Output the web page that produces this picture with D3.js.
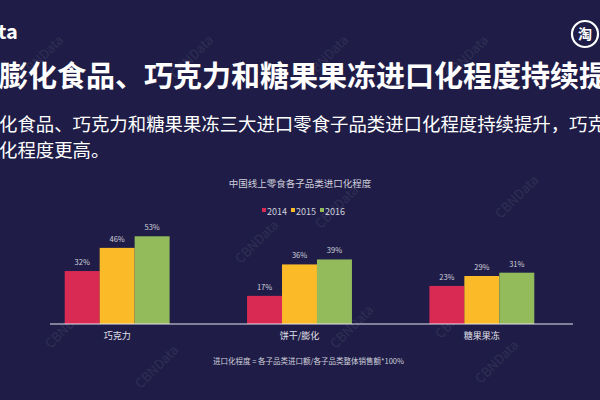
<!DOCTYPE html>
<html><head><meta charset="utf-8">
<script src="https://cdn.jsdelivr.net/npm/d3@7"></script>
<style>html,body{margin:0;padding:0;background:#1f1d47;overflow:hidden}</style>
</head><body><svg id="c" width="600" height="400"></svg>
<script>
const categories = ["巧克力", "饼干/膨化", "糖果果冻"];
const years = ["2014", "2015", "2016"];
const v2014 = [32, 17, 23];
const v2015 = [46, 36, 29];
const v2016 = [53, 39, 31];
const colors = ["#d92a53", "#fbbb28", "#93bb5c"];

const svg = d3.select("#c");
const F = "'Noto Sans CJK SC','Noto Sans',sans-serif";
svg.append("rect").attr("width",600).attr("height",400).attr("fill","#1f1d47");

// watermarks
const wm = [[45,60],[195,60],[330,60],[470,60],[260,245],[70,330],[355,330],[460,320],[520,200],[340,210],[160,370],[500,365]];
svg.selectAll("text.wm").data(wm).join("text").attr("class","wm")
  .attr("transform",d=>`translate(${d[0]},${d[1]}) rotate(-45)`)
  .attr("font-family",F).attr("font-size",13).attr("fill","#ffffff").attr("opacity",0.07)
  .attr("text-anchor","middle").text("CBNData");

// header
svg.append("text").attr("x",-2).attr("y",39).attr("font-family",F).attr("font-weight",700)
  .attr("font-size",20).attr("fill","#fff").text("ta");
const lg = svg.append("g").attr("transform","translate(585,34)");
lg.append("circle").attr("r",13).attr("fill","none").attr("stroke","#fff").attr("stroke-width",2.2);
lg.append("text").attr("y",5).attr("text-anchor","middle").attr("font-family",F).attr("font-weight",700)
  .attr("font-size",14).attr("fill","#fff").text("淘");

svg.append("text").attr("x",-1).attr("y",87).attr("font-family",F).attr("font-weight",700)
  .attr("font-size",29).attr("fill","#fff").text("膨化食品、巧克力和糖果果冻进口化程度持续提升");
svg.append("text").attr("x",-1).attr("y",131).attr("font-family",F)
  .attr("font-size",18.4).attr("fill","#fff").text("化食品、巧克力和糖果果冻三大进口零食子品类进口化程度持续提升，巧克力");
svg.append("text").attr("x",-1).attr("y",157).attr("font-family",F)
  .attr("font-size",18.4).attr("fill","#fff").text("化程度更高。");

// chart title
svg.append("text").attr("x",300).attr("y",187).attr("text-anchor","middle").attr("font-family",F)
  .attr("font-size",9.5).attr("fill","#d0d0dc").text("中国线上零食各子品类进口化程度");

// legend
const leg = svg.append("g");
const lx = [262, 291, 320];
years.forEach((y,i)=>{
  leg.append("rect").attr("x",lx[i]).attr("y",208).attr("width",4).attr("height",4).attr("fill",colors[i]);
  leg.append("text").attr("x",lx[i]+5).attr("y",215).attr("font-family",F).attr("font-size",9)
    .attr("fill","#d0d0dc").text(y);
});

// scales
const x0 = d3.scaleBand().domain(categories).range([26,573]).paddingInner(0.4247).paddingOuter(0.2123);
const x1 = d3.scaleBand().domain(years).range([0, x0.bandwidth()]);
const y = d3.scaleLinear().domain([0,100]).range([324, 324-165.5]);

const series = [v2014, v2015, v2016];
const data = [];
categories.forEach((c,ci)=>years.forEach((yr,yi)=>data.push({c, yr, yi, v: series[yi][ci]})));

const g = svg.append("g");
g.selectAll("rect.bar").data(data).join("rect").attr("class","bar")
  .attr("x",d=>x0(d.c)+x1(d.yr)).attr("width",x1.bandwidth())
  .attr("y",d=>y(d.v)).attr("height",d=>y(0)-y(d.v)).attr("fill",d=>colors[d.yi]);
g.selectAll("text.lbl").data(data).join("text").attr("class","lbl")
  .attr("x",d=>x0(d.c)+x1(d.yr)+x1.bandwidth()/2).attr("y",d=>y(d.v)-6)
  .attr("text-anchor","middle").attr("font-family",F).attr("font-size",7.5).attr("fill","#d0d0dc")
  .text(d=>d.v+"%");

// axis
const ax = svg.append("g").attr("transform","translate(0,324)")
  .call(d3.axisBottom(x0).tickSize(0).tickPadding(9));
ax.select(".domain").remove();
ax.append("line").attr("x1",50).attr("x2",573).attr("stroke","#e6e6ee").attr("stroke-width",1.2);
ax.selectAll(".tick text").attr("font-family",F).attr("font-size",9).attr("fill","#e0e0ea");

// footnote
svg.append("text").attr("x",213).attr("y",364).attr("font-family",F).attr("font-size",7.5)
  .attr("fill","#d0d0dc").text("进口化程度 = 各子品类进口额/各子品类整体销售额*100%");
</script></body></html>
